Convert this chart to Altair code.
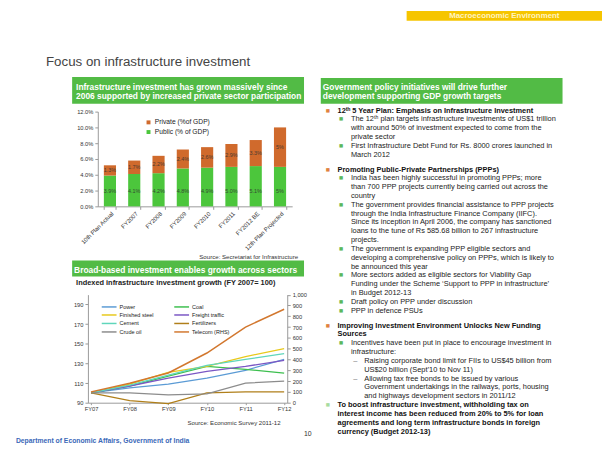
import altair as alt
import pandas as pd

# ---------------- data ----------------
bar_categories = ["10th Plan Actual", "FY2007", "FY2008", "FY2009", "FY2010",
                  "FY2011", "FY2012 BE", "12th Plan Projected"]
public_pct = [3.9, 4.1, 4.2, 4.8, 4.9, 5.0, 5.1, 5.0]
private_pct = [1.3, 1.7, 2.2, 2.4, 2.6, 2.9, 3.3, 5.0]
public_labels = ["3.9%", "4.1%", "4.2%", "4.8%", "4.9%", "5.0%", "5.1%", "5%"]
private_labels = ["1.3%", "1.7%", "2.2%", "2.4%", "2.6%", "2.9%", "3.3%", "5%"]
bar_series = ["Private (%of GDP)", "Public (% of GDP)"]
bar_ticks = [0, 2, 4, 6, 8, 10, 12]

years = ["FY07", "FY08", "FY09", "FY10", "FY11", "FY12"]
power = [100, 105, 109, 115, 123, 134]
coal = [100, 107, 117, 127, 124, 120]
finished_steel = [100, 109, 121, 127, 137, 145]
freight_traffic = [100, 107, 115, 122, 127, 133]
cement = [100, 108, 118, 128, 134, 140]
fertilizers = [100, 92, 89, 100, 101, 101]
crude_oil = [100, 100, 98, 99, 110, 112]
telecom_rhs = [100, 180, 275, 460, 700, 865]
line_series = ["Power", "Coal", "Finished steel", "Freight traffic", "Cement",
               "Fertilizers", "Crude oil", "Telecom (RHS)"]
lhs_ticks = [90, 110, 130, 150, 170, 190]
rhs_ticks = [0, 100, 200, 300, 400, 500, 600, 700, 800, 900, 1000]

para1 = [
    ("12ᵗʰ 5 Year Plan: Emphasis on Infrastructure Investment", 0, True, "main"),
    ("The 12ᵗʰ plan targets infrastructure investments of US$1 trillion", 1, False, "sub"),
    ("with around 50% of investment expected to come from the", 1, False, ""),
    ("private sector", 1, False, ""),
    ("First Infrastructure Debt Fund for Rs. 8000 crores launched in", 1, False, "sub"),
    ("March 2012", 1, False, ""),
]
para2 = [
    ("Promoting Public-Private Partnerships (PPPs)", 0, True, "main"),
    ("India has been highly successful in promoting PPPs; more", 1, False, "sub"),
    ("than 700 PPP projects currently being carried out across the", 1, False, ""),
    ("country", 1, False, ""),
    ("The government provides financial assistance to PPP projects", 1, False, "sub"),
    ("through the India Infrastructure Finance Company (IIFC).", 1, False, ""),
    ("Since its inception in April 2006, the company has sanctioned", 1, False, ""),
    ("loans to the tune of Rs 585.68 billion to 267 infrastructure", 1, False, ""),
    ("projects.", 1, False, ""),
    ("The government is expanding PPP eligible sectors and", 1, False, "sub"),
    ("developing a comprehensive policy on PPPs, which is likely to", 1, False, ""),
    ("be announced this year", 1, False, ""),
    ("More sectors added as eligible sectors for Viability Gap", 1, False, "sub"),
    ("Funding under the Scheme ‘Support to PPP in infrastructure’", 1, False, ""),
    ("in Budget 2012-13", 1, False, ""),
    ("Draft policy on PPP under discussion", 1, False, "sub"),
    ("PPP in defence PSUs", 1, False, "sub"),
]
para3 = [
    ("Improving Investment Environment Unlocks New Funding", 0, True, "main"),
    ("Sources", 0, True, ""),
    ("Incentives have been put in place to encourage investment in", 1, False, "sub"),
    ("infrastructure:", 1, False, ""),
    ("Raising corporate bond limit for FIIs to US$45 billion from", 2, False, "dash"),
    ("US$20 billion (Sept’10 to Nov 11)", 2, False, ""),
    ("Allowing tax free bonds to be issued by various", 2, False, "dash"),
    ("Government undertakings in the railways, ports, housing", 2, False, ""),
    ("and highways development sectors in 2011/12", 2, False, ""),
    ("To boost infrastructure investment, withholding tax on", 0, True, "light"),
    ("interest income  has been reduced from 20% to 5% for loan", 0, True, ""),
    ("agreements and long term infrastructure bonds in foreign", 0, True, ""),
    ("currency  (Budget 2012-13)", 0, True, ""),
]

# ---------------- layout constants ----------------
W, H = 602, 448
FONT = "Liberation Sans"
GREEN_BAR = "#4cc63c"
ORANGE_BAR = "#d06a2c"
HEADER_GREEN = "#52bb45"
line_colors = ["#5b9bd5", "#3dbf4f", "#e8c91c", "#7a57c4", "#5fd6bb",
               "#b07f1a", "#8c8c8c", "#d2772e"]

# ---------------- bar chart ----------------
rows = []
for c, pu, pr, pul, prl in zip(bar_categories, public_pct, private_pct, public_labels, private_labels):
    rows.append(dict(cat=c, series=bar_series[1], y0=0.0, y1=pu, label=pul, ly=2.0))
    rows.append(dict(cat=c, series=bar_series[0], y0=pu, y1=pu + pr, label=prl, ly=pu + pr / 2))
bar_df = pd.DataFrame(rows)

bx = alt.X("cat:N", sort=bar_categories,
           scale=alt.Scale(domain=bar_categories, range=[91, 288], paddingInner=0.5, paddingOuter=0.25),
           axis=alt.Axis(orient="bottom", offset=198 - H, labelAngle=-45, labelFontSize=6,
                         labelColor="#333", domainColor="#999", tickColor="#999", tickSize=3,
                         tickBand="extent", title=None, labelPadding=1, labelFont=FONT))
by_scale = alt.Scale(domain=[0, 12], range=[198, 102], nice=False, zero=False)
bars = alt.Chart(bar_df).mark_bar().encode(
    x=bx,
    y=alt.Y("y1:Q", scale=by_scale,
            axis=alt.Axis(orient="left", offset=-91, values=bar_ticks,
                          labelExpr="format(datum.value, '.1f') + '%'", labelFontSize=5.8,
                          labelColor="#333", domainColor="#999", tickColor="#999", tickSize=3,
                          title=None, grid=False, labelFont=FONT)),
    y2="y0:Q",
    color=alt.Color("series:N", scale=alt.Scale(domain=bar_series, range=[ORANGE_BAR, GREEN_BAR]),
                    legend=alt.Legend(orient="none", legendX=139, legendY=109.5, title=None,
                                      symbolType="square", symbolSize=16, symbolStrokeWidth=0,
                                      labelFontSize=6.8, labelFont=FONT, labelColor="#222",
                                      rowPadding=1.8, labelOffset=3, padding=0)),
)
bar_text = alt.Chart(bar_df).mark_text(fontSize=5.5, font=FONT, color="#333", opacity=0.85,
                                       baseline="middle").encode(
    x=bx, y=alt.Y("ly:Q", scale=by_scale), text="label:N")
bar_group = alt.layer(bars, bar_text)

# ---------------- line chart ----------------
lhs_values = [power, coal, finished_steel, freight_traffic, cement, fertilizers, crude_oil]
line_df = pd.DataFrame([dict(series=s, year=y, value=v)
                        for s, vals in zip(line_series[:-1], lhs_values)
                        for y, v in zip(years, vals)])
tel_df = pd.DataFrame(dict(series=line_series[-1], year=years, value=telecom_rhs))

lx = alt.X("year:N", sort=years,
           scale=alt.Scale(type="point", domain=years, range=[81, 283], padding=0.08),
           axis=alt.Axis(orient="bottom", offset=397 - H, labelAngle=0, labelFontSize=5.8,
                         labelColor="#333", domainColor="#999", tickColor="#999", tickSize=2,
                         title=None, labelFont=FONT, labelPadding=1))
lcolor = alt.Color("series:N", scale=alt.Scale(domain=line_series, range=line_colors),
                   legend=alt.Legend(orient="none", legendX=99, legendY=296, title=None,
                                     columns=2, direction="horizontal", columnPadding=17.5,
                                     symbolType="M-3,0L3,0", symbolSize=25,
                                     symbolStrokeWidth=1.5, symbolFillColor="transparent",
                                     labelFontSize=5.6, labelFont=FONT, labelColor="#222",
                                     rowPadding=0.6, labelOffset=7, padding=0))
lhs = alt.Chart(line_df).mark_line(strokeWidth=1.3).encode(
    x=lx,
    y=alt.Y("value:Q", scale=alt.Scale(domain=[90, 200], range=[397, 287.5], nice=False, zero=False),
            axis=alt.Axis(orient="left", offset=-81, values=lhs_ticks, labelFontSize=5.8,
                          labelColor="#333", domainColor="#999", tickColor="#999", tickSize=3,
                          title=None, grid=False, labelFont=FONT)),
    color=lcolor, order=alt.Order("series:N"),
)
tel = alt.Chart(tel_df).mark_line(strokeWidth=1.5).encode(
    x=lx,
    y=alt.Y("value:Q", scale=alt.Scale(domain=[0, 1000], range=[397, 287.5], nice=False, zero=False),
            axis=alt.Axis(orient="right", offset=283 - W, values=rhs_ticks, format=",.0f",
                          labelFontSize=5.8, labelColor="#333", domainColor="#999",
                          tickColor="#999", tickSize=3, title=None, grid=False, labelFont=FONT)),
    color=lcolor,
)
line_group = alt.layer(lhs, tel).resolve_scale(y="independent")

# ---------------- right text block ----------------
trows = []
pos = 0.0
for p in (para1, para2, para3):
    for txt, lvl, bold, bul in p:
        trows.append(dict(line=txt, level=lvl, bold=bold, bullet=bul, pos=pos))
        pos += 1
    pos += 0.67
text_df = pd.DataFrame(trows)
tx = alt.X("level:Q", scale=alt.Scale(domain=[0, 2], range=[334, 361], nice=False, zero=False), axis=None)
ty = alt.Y("pos:Q", scale=alt.Scale(domain=[0, 10], range=[101, 190.5], nice=False, zero=False), axis=None)
tbase = alt.Chart(text_df)
t_reg = tbase.transform_filter("!datum.bold").mark_text(
    align="left", baseline="middle", fontSize=7.5, font=FONT, color="#222").encode(x=tx, y=ty, text="line:N")
t_bold = tbase.transform_filter("datum.bold").mark_text(
    align="left", baseline="middle", fontSize=7.5, font=FONT, fontWeight="bold", color="#111").encode(
    x=tx, y=ty, text="line:N")
t_bul = tbase.transform_filter("datum.bullet == 'main' || datum.bullet == 'sub' || datum.bullet == 'light'").mark_text(
    align="left", baseline="middle", fontSize=4.5, font="DejaVu Sans", dx=-12, text="■").encode(
    x=tx, y=ty,
    color=alt.Color("bullet:N", scale=alt.Scale(domain=["main", "sub", "light"],
                                                range=["#e0823f", "#5cb85c", "#a8dca0"]), legend=None))
t_dash = tbase.transform_filter("datum.bullet == 'dash'").mark_text(
    align="left", baseline="middle", fontSize=7.5, font=FONT, dx=-11, text="–", color="#777").encode(x=tx, y=ty)
text_group = alt.layer(t_reg, t_bold, t_bul, t_dash)

# ---------------- slide decorations ----------------
one = pd.DataFrame({"k": [0]})


def box(x, x2, y, y2, color):
    return alt.Chart(one).mark_rect(color=color).encode(
        x=alt.value(x), x2=alt.value(x2), y=alt.value(y), y2=alt.value(y2))


def label(txt, x, y, size, color="#222", weight="normal", align="left"):
    return alt.Chart(one).mark_text(text=txt, fontSize=size, font=FONT, color=color,
                                    fontWeight=weight, align=align, baseline="middle").encode(
        x=alt.value(x), y=alt.value(y))


decor = [
    box(404, 602, 0, 10, "#f6c500"),
    label("Macroeconomic Environment", 503, 5, 8, "#fff4c0", "bold", "center"),
    label("Focus on infrastructure investment", 38.5, 52, 13.5, "#444"),
    box(65, 300, 67, 94, HEADER_GREEN),
    label("Infrastructure investment has grown massively since", 69, 77, 8.5, "white", "bold"),
    label("2006 supported by increased private sector participation", 69, 86, 8.5, "white", "bold"),
    box(317, 562, 68, 94, HEADER_GREEN),
    label("Government policy initiatives will drive further", 319, 77, 8.5, "white", "bold"),
    label("development supporting GDP growth targets", 319, 86, 8.5, "white", "bold"),
    label("Source: Secretariat for Infrastructure", 294, 249, 6.2, "#333", "normal", "right"),
    box(65, 300, 253, 269, HEADER_GREEN),
    label("Broad-based investment enables growth across sectors", 67, 262.5, 8.5, "white", "bold"),
    label("Indexed infrastructure investment growth (FY 2007= 100)", 69, 276, 7.5, "#222", "bold"),
    label("Source: Economic Survey 2011-12", 182, 418, 6.15, "#333"),
    label("10", 300, 429, 7, "#333"),
    label("Department of Economic Affairs, Government of India", 8, 436, 6.9, "#3a68b8", "bold"),
]

chart = alt.layer(*decor, bar_group, line_group, text_group).resolve_scale(
    x="independent", y="independent", color="independent"
).properties(
    width=W, height=H, autosize=alt.AutoSizeParams(type="none"), padding=0
).configure_view(stroke=None).configure_axis(grid=False)

chart.save("out.html", embed_options={"renderer": "svg", "actions": False})
